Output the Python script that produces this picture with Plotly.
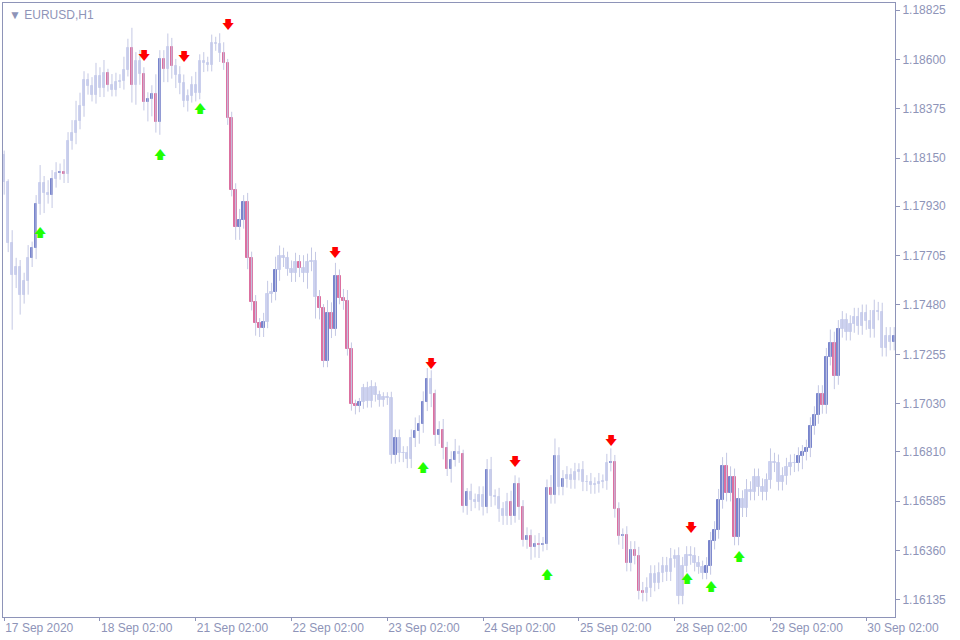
import plotly.graph_objects as go

# closes per H1 bar, bar 0 = 17 Sep 02:00
first_open = 1.18164
closes = [
    1.18043, 1.17761, 1.17617, 1.17655, 1.17526, 1.17587, 1.17693, 1.17739, 1.17941, 1.18038,
    1.17989, 1.17982, 1.18055, 1.18081, 1.18085, 1.18076, 1.18228, 1.18263, 1.18321, 1.18388,
    1.18506, 1.18479, 1.18438, 1.18524, 1.18468, 1.18537, 1.18483, 1.18461, 1.18499, 1.18502,
    1.18552, 1.18654, 1.18483, 1.18593, 1.18534, 1.18407, 1.18420, 1.18442, 1.18316, 1.18602,
    1.18556, 1.18658, 1.18572, 1.18529, 1.18491, 1.18412, 1.18433, 1.18483, 1.18448, 1.18593,
    1.18582, 1.18575, 1.18673, 1.18669, 1.18628, 1.18582, 1.18331, 1.18005, 1.17837, 1.17868,
    1.17951, 1.17693, 1.17495, 1.17400, 1.17374, 1.17404, 1.17530, 1.17541, 1.17640, 1.17701,
    1.17693, 1.17643, 1.17625, 1.17678, 1.17647, 1.17624, 1.17674, 1.17682, 1.17518, 1.17464,
    1.17226, 1.17442, 1.17369, 1.17612, 1.17513, 1.17498, 1.17279, 1.17028, 1.17021, 1.17036,
    1.17100, 1.17042, 1.17107, 1.17069, 1.17046, 1.17062, 1.17054, 1.16796, 1.16872, 1.16803,
    1.16806, 1.16776, 1.16872, 1.16907, 1.16937, 1.17036, 1.17142, 1.17074, 1.16887, 1.16910,
    1.16826, 1.16730, 1.16773, 1.16809, 1.16800, 1.16563, 1.16625, 1.16590, 1.16583, 1.16613,
    1.16560, 1.16727, 1.16609, 1.16606, 1.16551, 1.16517, 1.16583, 1.16517, 1.16663, 1.16560,
    1.16408, 1.16426, 1.16378, 1.16390, 1.16386, 1.16392, 1.16644, 1.16614, 1.16791, 1.16652,
    1.16687, 1.16705, 1.16682, 1.16720, 1.16728, 1.16671, 1.16674, 1.16659, 1.16664, 1.16674,
    1.16677, 1.16761, 1.16766, 1.16550, 1.16427, 1.16431, 1.16305, 1.16363, 1.16337, 1.16177,
    1.16168, 1.16188, 1.16253, 1.16214, 1.16256, 1.16291, 1.16261, 1.16322, 1.16335, 1.16155,
    1.16291, 1.16340, 1.16335, 1.16305, 1.16284, 1.16259, 1.16290, 1.16405, 1.16454, 1.16591,
    1.16746, 1.16624, 1.16694, 1.16424, 1.16595, 1.16553, 1.16636, 1.16629, 1.16694, 1.16649,
    1.16629, 1.16682, 1.16766, 1.16758, 1.16674, 1.16700, 1.16743, 1.16758, 1.16761, 1.16791,
    1.16811, 1.16826, 1.16928, 1.16978, 1.17074, 1.17024, 1.17244, 1.17308, 1.17156, 1.17371,
    1.17412, 1.17358, 1.17393, 1.17427, 1.17384, 1.17442, 1.17407, 1.17371, 1.17454, 1.17450,
    1.17285, 1.17339, 1.17313, 1.17339,
]

# wick lengths above / below the body, in points (1e-5)
wick_hi = [
    20, 10, 60, 40, 30, 40, 60, 30, 40, 80, 30, 60, 40, 50, 40, 60, 40, 60, 90, 60,
    40, 30, 40, 60, 40, 60, 20, 50, 40, 30, 60, 40, 90, 40, 50, 30, 30, 40, 90, 40,
    40, 60, 40, 30, 40, 40, 30, 40, 60, 30, 40, 30, 40, 30, 50, 50, 20, 30, 30, 50,
    30, 40, 30, 30, 20, 40, 60, 40, 60, 50, 40, 30, 40, 40, 30, 60, 40, 60, 40, 30,
    20, 60, 50, 60, 30, 40, 50, 30, 20, 20, 20, 30, 30, 20, 20, 20, 20, 30, 40, 40,
    30, 30, 40, 60, 40, 50, 50, 40, 20, 40, 50, 30, 40, 60, 30, 20, 20, 40, 30, 40,
    40, 50, 60, 30, 40, 30, 40, 50, 40, 30, 30, 40, 30, 40, 50, 30, 40, 60, 80, 40,
    40, 40, 30, 40, 30, 40, 30, 40, 30, 40, 30, 40, 60, 30, 30, 30, 40, 40, 40, 40,
    40, 50, 40, 40, 50, 40, 40, 50, 30, 40, 40, 40, 40, 40, 30, 30, 40, 40, 40, 50,
    40, 60, 50, 40, 50, 40, 50, 40, 40, 40, 40, 30, 60, 40, 40, 40, 40, 40, 40, 40,
    30, 40, 40, 40, 40, 40, 40, 60, 50, 40, 40, 30, 40, 40, 40, 40, 40, 50, 50, 40,
    40, 40, 40, 40,
]
wick_lo = [
    60, 40, 250, 60, 90, 40, 60, 40, 50, 50, 90, 40, 60, 40, 30, 40, 40, 40, 50, 40,
    50, 40, 30, 40, 40, 40, 30, 30, 30, 30, 40, 30, 80, 90, 50, 40, 90, 80, 50, 60,
    60, 60, 60, 60, 50, 30, 50, 30, 40, 30, 40, 30, 30, 30, 40, 30, 30, 30, 60, 60,
    40, 50, 40, 60, 40, 40, 30, 40, 40, 50, 40, 30, 40, 40, 40, 40, 70, 40, 100, 50,
    30, 30, 40, 30, 30, 40, 30, 30, 40, 30, 30, 30, 30, 30, 30, 30, 30, 40, 40, 40,
    40, 40, 40, 40, 60, 40, 40, 60, 50, 40, 50, 30, 60, 30, 40, 30, 40, 50, 30, 40,
    40, 30, 50, 40, 60, 40, 40, 40, 30, 60, 30, 40, 60, 50, 60, 30, 30, 40, 40, 40,
    40, 40, 40, 40, 40, 40, 40, 40, 40, 40, 30, 40, 40, 40, 40, 60, 40, 40, 40, 40,
    40, 40, 40, 40, 30, 40, 40, 40, 40, 40, 40, 30, 40, 40, 30, 30, 30, 40, 40, 40,
    40, 40, 40, 40, 40, 40, 40, 40, 40, 40, 40, 40, 40, 40, 40, 40, 40, 40, 40, 40,
    60, 40, 40, 40, 40, 40, 40, 40, 60, 40, 40, 40, 40, 40, 40, 40, 40, 40, 40, 40,
    40, 40, 40, 40,
]

# bars painted by the indicator
marked = [7, 8, 12, 14, 15, 26, 32, 35, 36, 37, 38, 39, 40, 42, 55, 56, 57, 58, 59, 60,
          61, 62, 63, 64, 65, 68, 74, 79, 80, 81, 82, 83, 84, 85, 86, 87, 88, 89, 98,
          103, 104, 105, 106, 108, 109, 110, 111, 112, 113, 115, 116, 121, 127, 128,
          129, 130, 131, 132, 133, 134, 135, 136, 137, 138, 140, 152, 153, 154, 155,
          156, 157, 158, 159, 160, 176, 177, 178, 179, 180, 181, 182, 183, 184, 199,
          200, 201, 202, 203, 204, 205, 206, 207, 208, 209, 223]

sell_bars = [35, 45, 56, 83, 107, 128, 152, 172]
sell_prices = [1.18611, 1.18606, 1.18752, 1.17712, 1.17206, 1.16759, 1.16855, 1.16458]
buy_bars = [9, 39, 49, 105, 136, 171, 177, 184]
buy_prices = [1.17804, 1.18159, 1.18369, 1.16732, 1.16244, 1.16226, 1.16189, 1.16326]

x_tick_bars = [0, 24, 48, 72, 96, 120, 144, 168, 192, 216]
x_tick_text = ["17 Sep 2020", "18 Sep 02:00", "21 Sep 02:00", "22 Sep 02:00", "23 Sep 02:00",
               "24 Sep 02:00", "25 Sep 02:00", "28 Sep 02:00", "29 Sep 02:00", "30 Sep 02:00"]
y_ticks = [1.18825, 1.18600, 1.18375, 1.18150, 1.17930, 1.17705, 1.17480, 1.17255,
           1.17030, 1.16810, 1.16585, 1.16360, 1.16135]

opens = [first_open] + closes[:-1]
highs = [max(o, c) + h * 1e-5 for o, c, h in zip(opens, closes, wick_hi)]
lows = [min(o, c) - l * 1e-5 for o, c, l in zip(opens, closes, wick_lo)]

LIGHT = "#CDD2F0"
BLUE = "#7884CC"
PINK = "#DC70A0"
AXIS = "#8E94B8"

n = len(closes)
colors = []
for i in range(n):
    if i not in marked:
        colors.append(LIGHT)
    elif closes[i] >= opens[i]:
        colors.append(BLUE)
    else:
        colors.append(PINK)

# wicks as one broken line
wx, wy = [], []
for i in range(n):
    wx += [i, i, None]
    wy += [lows[i], highs[i], None]

fig = go.Figure()
fig.add_trace(go.Scatter(x=wx, y=wy, mode="lines", line=dict(color="#C4C8E4", width=1),
                         showlegend=False, hoverinfo="skip"))
fig.add_trace(go.Bar(x=list(range(n)),
                     y=[max(abs(c - o), 0.00002) for o, c in zip(opens, closes)],
                     base=[min(o, c) for o, c in zip(opens, closes)],
                     width=0.6, marker=dict(color=colors, line=dict(width=1, color=colors)),
                     showlegend=False, hoverinfo="skip"))

fig.add_trace(go.Scatter(x=sell_bars, y=sell_prices, mode="text", text=["🡇"] * len(sell_bars),
                         textfont=dict(color="#FF0000", size=12, family="DejaVu Sans"),
                         showlegend=False, hoverinfo="skip"))
fig.add_trace(go.Scatter(x=buy_bars, y=buy_prices, mode="text", text=["🡅"] * len(buy_bars),
                         textfont=dict(color="#22FF00", size=12, family="DejaVu Sans"),
                         showlegend=False, hoverinfo="skip"))

fig.add_annotation(text="▼ EURUSD,H1", xref="paper", yref="paper", x=0.005, y=0.995,
                   xanchor="left", yanchor="top", showarrow=False,
                   font=dict(color=AXIS, size=12, family="Liberation Sans"))

fig.update_layout(
    width=960, height=640,
    margin=dict(l=3, r=65, t=3, b=23, autoexpand=False),
    paper_bgcolor="white", plot_bgcolor="white", bargap=0,
    font=dict(family="Liberation Sans", size=12, color=AXIS),
    xaxis=dict(range=[-0.3, 223.2], showgrid=False, automargin=False,
               zeroline=False, tickvals=x_tick_bars, ticktext=x_tick_text,
               ticks="outside", ticklen=3, tickcolor=AXIS, ticklabelposition="outside right",
               showline=True, linecolor=AXIS, mirror=True),
    yaxis=dict(range=[1.16057, 1.18857], side="right", showgrid=False, zeroline=False,
               automargin=False, tickvals=y_ticks, ticktext=["%.5f" % v for v in y_ticks],
               ticks="outside", ticklen=4, tickcolor=AXIS,
               showline=True, linecolor=AXIS, mirror=True),
)

fig.write_html("out.html", config={"displayModeBar": False},
               post_script="document.body.style.margin='0';")
